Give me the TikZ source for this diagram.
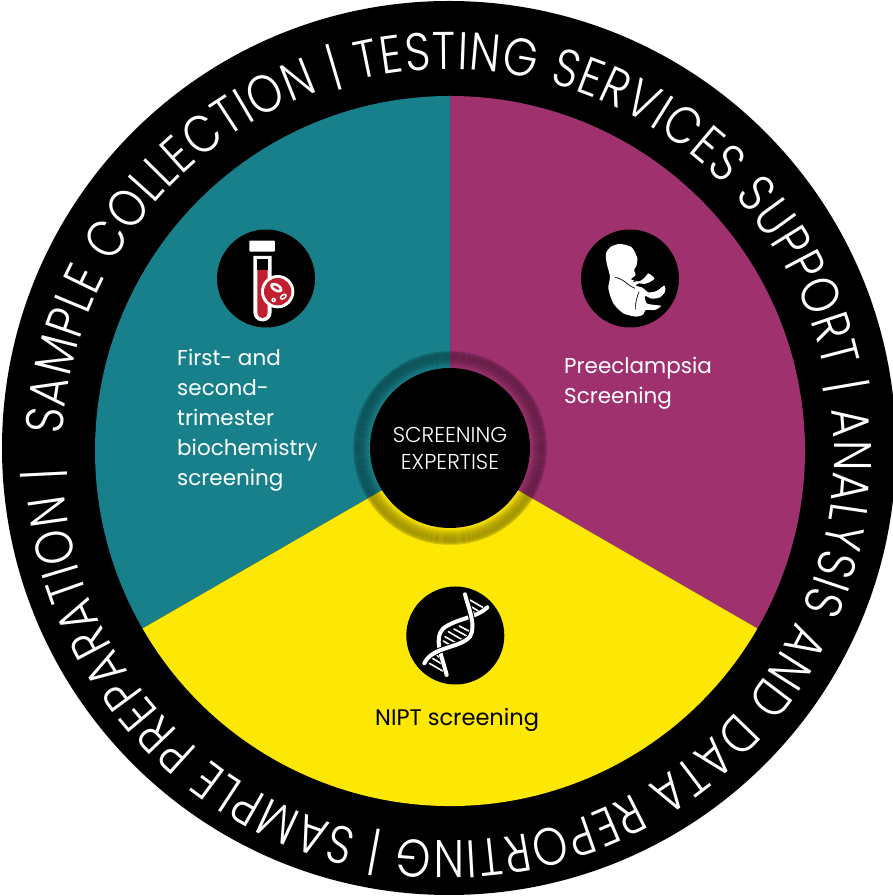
\documentclass[tikz,border=0pt]{standalone}
\usepackage{fontspec}
\setmainfont{Poppins}
\newfontfamily\hubfont{Poppins Light}
\newfontfamily\ringfont[FakeStretch=0.84]{Poppins Light}
\usetikzlibrary{decorations.text}
\definecolor{tealc}{HTML}{17808A}
\definecolor{magc}{HTML}{9E316E}
\definecolor{yelc}{HTML}{FDE705}
\definecolor{redc}{HTML}{C1202F}
\tikzset{
 iconbg/.style={fill=black,circle,minimum size=98pt,inner sep=0pt},
 label/.style={font=\fontsize{21.5}{30}\selectfont,align=left,anchor=north west,inner sep=0pt},
 wline/.style={draw=white,line cap=round,line join=round},
}
\begin{document}
\begin{tikzpicture}[x=1pt,y=1pt]
\useasboundingbox (0,0) rectangle (893,896);
\coordinate (c) at (450,445);
\fill[black] (449,448) circle (447);
\fill[magc] (c) -- +(90:355) arc (90:-30:355) -- cycle;
\fill[tealc] (c) -- +(90:355) arc (90:210:355) -- cycle;
\fill[yelc] (c) -- +(210:355) arc (210:330:355) -- cycle;
% bevel ring
\foreach \r/\o in {81/0.02,82/0.05,83/0.09,84/0.13,85/0.17,86/0.2,87/0.23,88/0.25,89/0.27,90/0.29,91/0.3,92/0.31,93/0.31,94/0.3,95/0.27,96/0.22,97/0.15}{
  \draw[black,opacity=\o,line width=1pt] (450,448) circle ({\r-0.5});
}
\node[fill=black,circle,minimum size=160pt,inner sep=0pt,text=white,align=center,font=\hubfont\fontsize{21.5}{27}\selectfont] (hub) at (450,448) {SCREENING\\EXPERTISE};
% ring text
\path[decorate,decoration={text along path,text format delimiters={[}{]},text align={fit to path},
 text={[\ringfont\color{white}\fontsize{53}{53}\selectfont]SAMPLE COLLECTION | TESTING SERVICES SUPPORT | ANALYSIS AND DATA REPORTING | SAMPLE PREPARATION |}}]
 (448,441) ++(177:386) arc (177:-178:386);
% test tube icon
\node[iconbg] (i1) at (266,617.5) {};
\begin{scope}[shift={(200,676)},x=0.3333pt,y=-0.3333pt]
 \fill[white,rounded corners=1pt] (148,62) rectangle (225,95);
 \fill[white] (160,108) -- (215,108) -- (215,277) arc (0:180:27.5) -- cycle;
 \fill[black] (172,118) rectangle (203,150);
 \fill[redc] (172,150) -- (203,150) -- (203,279) arc (0:180:15.5) -- cycle;
 \fill[white] (233,215) circle (50);
 \fill[redc] (233,215) circle (41);
 \fill[white,rotate around={-30:(229,203)}] (229,203) ellipse (20 and 12);
 \fill[redc,rotate around={-30:(229,203)}] (229,203) ellipse (11 and 4);
 \fill[white,rotate around={35:(250,230)}] (250,230) ellipse (12 and 8);
 \fill[redc,rotate around={35:(250,230)}] (250,230) ellipse (6 and 3);
 \fill[white] (221,240) circle (7);
 \fill[redc] (221,240) circle (2.5);
\end{scope}
% fetus icon
\node[iconbg] (i2) at (630,617.5) {};
\begin{scope}[shift={(565,676)},x=0.3333pt,y=-0.3333pt]
 \fill[white] plot[smooth cycle,tension=0.45] coordinates {(165,72)(200,82)(217,115)(214,138)(207,150)(212,165)(198,178)(222,184)(240,172)(250,160)(268,175)(255,186)(238,192)(222,190)(212,197)(232,203)(250,217)(275,213)(298,197)(300,215)(285,232)(260,236)(240,228)(245,250)(270,255)(288,258)(270,270)(242,270)(235,283)(215,290)(175,280)(145,250)(130,205)(135,170)(125,130)(123,100)(138,80)};
 \draw[black,line width=0.7pt] (150,172) .. controls (175,175) and (185,195) .. (210,205);
 \draw[black,line width=0.7pt] (205,185) -- (225,180);
 \draw[black,line width=0.7pt] (222,215) .. controls (215,235) and (210,250) .. (212,268);
\end{scope}
% DNA icon
\node[iconbg] (i3) at (455.3,260.5) {};
\begin{scope}[shift={(390,321)},x=0.3333pt,y=-0.3333pt]
 \foreach \a/\b/\cc/\d in {240/75/278/97,238/92/272/112,248/110/262/118,208/153/240/170,192/162/232/184,175/170/218/195,165/185/200/205,160/198/180/210,140/240/152/250,128/250/160/270,118/265/158/288}{
   \draw[wline,line width=1.6pt] (\a,\b) -- (\cc,\d);
 }
 \draw[black,line width=5pt] (292,97) .. controls (262,128) and (200,130) .. (160,160) .. controls (130,190) and (155,240) .. (170,300);
 \draw[wline,line width=4pt] (292,97) .. controls (262,128) and (200,130) .. (160,160) .. controls (130,190) and (155,240) .. (170,300);
 \draw[black,line width=6pt] (225,58) .. controls (235,100) and (260,150) .. (240,185) .. controls (210,220) and (125,215) .. (103,265);
 \draw[wline,line width=4pt] (225,58) .. controls (235,100) and (260,150) .. (240,185) .. controls (210,220) and (125,215) .. (103,265);
\end{scope}
% labels
\node[label,text=white] (t1) at (177,547) {First- and\\second-\\trimester\\biochemistry\\screening};
\node[label,text=white] (t2) at (564,539) {Preeclampsia\\Screening};
\node[label,text=black,font=\fontsize{22.5}{30}\selectfont] (t3) at (375,188) {NIPT screening};
\end{tikzpicture}
\end{document}
